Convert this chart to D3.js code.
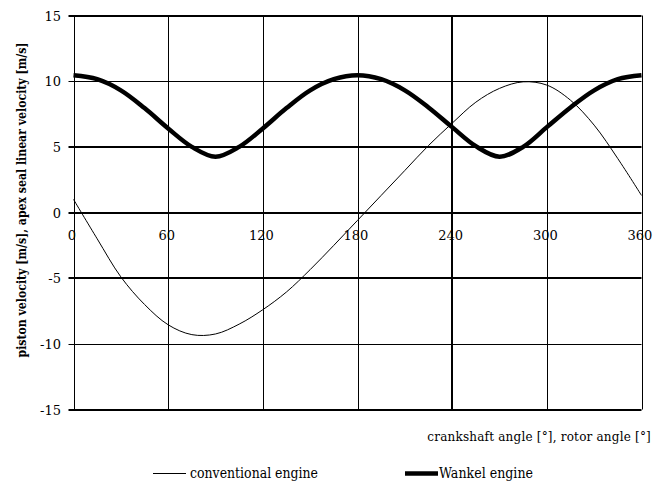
<!DOCTYPE html>
<html>
<head>
<meta charset="utf-8">
<script src="https://cdn.jsdelivr.net/npm/d3@7"></script>
<style>
    body { margin: 0; background: #fff; }
    svg { display: block; }
    text { font-family: "DejaVu Serif", "Liberation Serif", serif; fill: #000; }
</style>
</head>
<body>
<svg width="658" height="484"></svg>
<script>
// angles read every 15 degrees
let angles = [0, 15, 30, 45, 60, 75, 90, 105, 120, 135, 150, 165, 180,
    195, 210, 225, 240, 255, 270, 285, 300, 315, 330, 345, 360];

// piston velocity of the conventional engine [m/s]
let conventional = [1.0, -2.0, -4.9, -7.0, -8.55, -9.3, -9.25, -8.5, -7.4, -6.05, -4.35, -2.5, -0.6,
    1.3, 3.2, 5.1, 6.8, 8.4, 9.45, 9.95, 9.7, 8.55, 6.65, 4.1, 1.3];

// apex seal linear velocity of the Wankel engine [m/s]
let wankel = [10.45, 10.15, 9.3, 7.95, 6.4, 5.0, 4.25, 5.0, 6.4, 7.95, 9.3, 10.15, 10.45,
    10.15, 9.3, 8.0, 6.5, 5.05, 4.25, 5.0, 6.5, 8.0, 9.3, 10.15, 10.45];

let xTicks = [0, 60, 120, 180, 240, 300, 360];
let yTicks = [15, 10, 5, 0, -5, -10, -15];

let seriesNames = ["conventional engine", "Wankel engine"];

// gridlines drawn heavier in the original
let thickY = new Set([15, 5, 0, -5, -15]);
let thickX = new Set([240]);

let svg = d3.select("svg");
let plotLeft = 73.5, plotRight = 641.5, plotTop = 15.5, plotBottom = 409.5;

let x = d3.scaleLinear().domain([0, 360]).range([plotLeft, plotRight]);
let y = d3.scaleLinear().domain([-15, 15]).range([plotBottom, plotTop]);

// horizontal grid, with a short tick sticking out to the left
svg.append("g")
    .selectAll("line")
    .data(yTicks)
    .enter().append("line")
    .attr("x1", plotLeft - 5)
    .attr("x2", plotRight)
    .attr("y1", d => Math.round(y(d)) + (thickY.has(d) ? 0 : 0.5))
    .attr("y2", d => Math.round(y(d)) + (thickY.has(d) ? 0 : 0.5))
    .attr("stroke", "#000")
    .attr("stroke-width", d => thickY.has(d) ? 2 : 1);

// vertical grid
svg.append("g")
    .selectAll("line")
    .data(xTicks)
    .enter().append("line")
    .attr("x1", d => Math.round(x(d)) + (thickX.has(d) ? 0 : 0.5))
    .attr("x2", d => Math.round(x(d)) + (thickX.has(d) ? 0 : 0.5))
    .attr("y1", plotTop)
    .attr("y2", plotBottom)
    .attr("stroke", "#000")
    .attr("stroke-width", d => thickX.has(d) ? 2 : 1);

// y tick labels
svg.append("g")
    .selectAll("text")
    .data(yTicks)
    .enter().append("text")
    .attr("x", 61)
    .attr("y", d => y(d) + 5)
    .attr("text-anchor", "end")
    .style("font-size", "13px")
    .text(d => d);

// x tick labels sit just under the zero line
svg.append("g")
    .selectAll("text")
    .data(xTicks)
    .enter().append("text")
    .attr("x", d => x(d) - 1.5)
    .attr("y", y(0) + 27)
    .attr("text-anchor", "middle")
    .style("font-size", "13px")
    .text(d => d);

let line = d3.line()
    .x((d, i) => x(angles[i]))
    .y(d => y(d))
    .curve(d3.curveCatmullRom.alpha(0.5));

svg.append("path")
    .datum(conventional)
    .attr("d", line)
    .attr("fill", "none")
    .attr("stroke", "#000")
    .attr("stroke-width", 1);

svg.append("path")
    .datum(wankel)
    .attr("d", line)
    .attr("fill", "none")
    .attr("stroke", "#000")
    .attr("stroke-width", 4.5);

// axis titles
svg.append("text")
    .attr("transform", "translate(26,200) rotate(-90)")
    .attr("text-anchor", "middle")
    .attr("textLength", 315)
    .attr("lengthAdjust", "spacingAndGlyphs")
    .style("font-size", "12px")
    .style("font-weight", "bold")
    .text("piston velocity [m/s], apex seal linear velocity [m/s]");

svg.append("text")
    .attr("x", 651)
    .attr("y", 441)
    .attr("text-anchor", "end")
    .style("font-size", "12px")
    .style("letter-spacing", "0.2px")
    .text("crankshaft angle [°], rotor angle [°]");

// legend
let legend = [
    {name: seriesNames[0], x1: 153, x2: 186, w: 1, tx: 190, len: 128},
    {name: seriesNames[1], x1: 405, x2: 438, w: 4.5, tx: 439, len: 94}
];
let lg = svg.append("g")
    .selectAll("g")
    .data(legend)
    .enter().append("g");
lg.append("line")
    .attr("x1", d => d.x1)
    .attr("x2", d => d.x2)
    .attr("y1", 473.5)
    .attr("y2", 473.5)
    .attr("stroke", "#000")
    .attr("stroke-width", d => d.w);
lg.append("text")
    .attr("x", d => d.tx)
    .attr("y", 478)
    .attr("textLength", d => d.len)
    .attr("lengthAdjust", "spacingAndGlyphs")
    .style("font-size", "14px")
    .text(d => d.name);
</script>
</body>
</html>
